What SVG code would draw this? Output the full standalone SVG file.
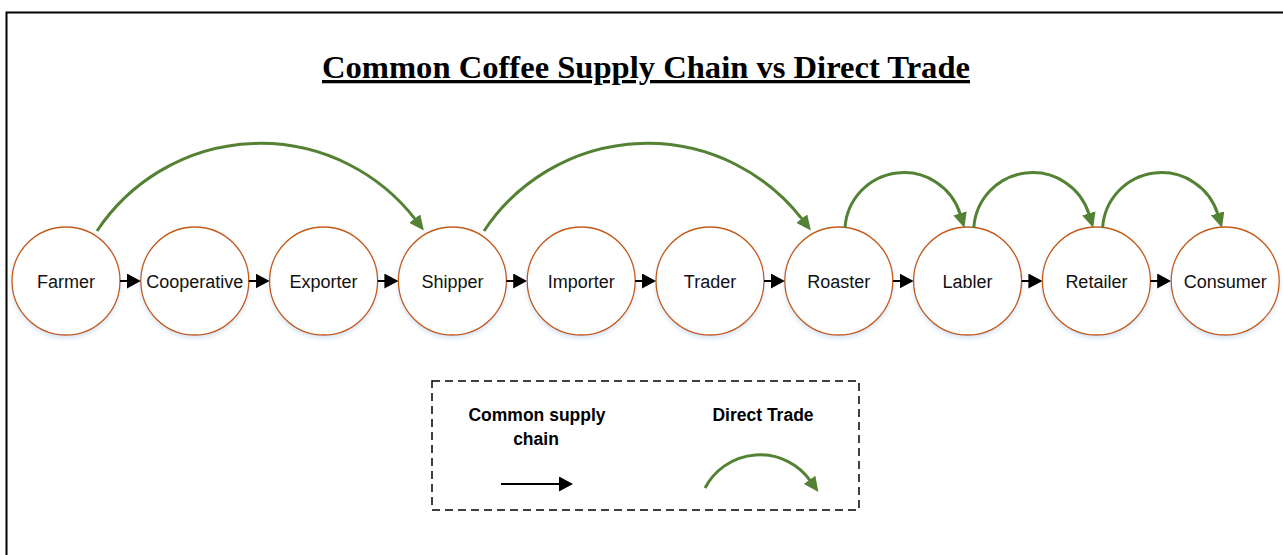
<svg xmlns="http://www.w3.org/2000/svg" width="1283" height="555" viewBox="0 0 1283 555">
  <style>
    .frame { fill: none; stroke: #000; stroke-width: 2; }
    .title { font-family: "Liberation Serif", "Times New Roman", serif; font-weight: bold; font-size: 32.6px; fill: #000; text-decoration: underline; }
    .node circle { fill: #fff; stroke: #C55A11; stroke-width: 1.3; filter: url(#glow); }
    .node text { font-family: "Liberation Sans", Arial, sans-serif; font-size: 18px; fill: #111; text-anchor: middle; }
    .flow { stroke: #000; stroke-width: 2; fill: none; marker-end: url(#blackHead); }
    .direct { stroke: #548235; stroke-width: 3; fill: none; marker-end: url(#greenHead); }
    .legend-box { fill: none; stroke: #000; stroke-width: 1.5; stroke-dasharray: 8 5; }
    .legend-text { font-family: "Liberation Sans", Arial, sans-serif; font-weight: bold; font-size: 17.5px; fill: #000; text-anchor: middle; }
  </style>
  <defs>
    <filter id="glow" x="-20%" y="-20%" width="140%" height="150%">
      <feDropShadow dx="0" dy="2.5" stdDeviation="2" flood-color="#9DC3E6" flood-opacity="0.45"/>
    </filter>
    <marker id="blackHead" markerUnits="userSpaceOnUse" markerWidth="14" markerHeight="15" refX="2" refY="7.5" orient="auto">
      <path d="M0,0 L14,7.5 L0,15 Z" fill="#000"/>
    </marker>
    <marker id="greenHead" markerUnits="userSpaceOnUse" markerWidth="15" markerHeight="14" refX="1" refY="7" orient="auto">
      <path d="M0,0 L15,7 L0,14 Z" fill="#548235"/>
    </marker>
  </defs>

  <rect class="frame" x="6.5" y="12.5" width="1300" height="600"/>

  <text class="title" x="646" y="78" text-anchor="middle">Common Coffee Supply Chain vs Direct Trade</text>

  <!-- supply chain stages -->
  <g id="farmer" class="node"><circle cx="66" cy="281" r="54"/><text x="66" y="287.5">Farmer</text></g>
  <g id="cooperative" class="node"><circle cx="194.8" cy="281" r="54"/><text x="194.8" y="287.5">Cooperative</text></g>
  <g id="exporter" class="node"><circle cx="323.6" cy="281" r="54"/><text x="323.6" y="287.5">Exporter</text></g>
  <g id="shipper" class="node"><circle cx="452.4" cy="281" r="54"/><text x="452.4" y="287.5">Shipper</text></g>
  <g id="importer" class="node"><circle cx="581.2" cy="281" r="54"/><text x="581.2" y="287.5">Importer</text></g>
  <g id="trader" class="node"><circle cx="710" cy="281" r="54"/><text x="710" y="287.5">Trader</text></g>
  <g id="roaster" class="node"><circle cx="838.8" cy="281" r="54"/><text x="838.8" y="287.5">Roaster</text></g>
  <g id="labler" class="node"><circle cx="967.6" cy="281" r="54"/><text x="967.6" y="287.5">Labler</text></g>
  <g id="retailer" class="node"><circle cx="1096.4" cy="281" r="54"/><text x="1096.4" y="287.5">Retailer</text></g>
  <g id="consumer" class="node"><circle cx="1225.2" cy="281" r="54"/><text x="1225.2" y="287.5">Consumer</text></g>

  <g id="connectors">
    <!-- common chain: edge to edge -->
    <line class="flow" x1="120" y1="281" x2="128.8" y2="281"/>
    <line class="flow" x1="248.8" y1="281" x2="257.6" y2="281"/>
    <line class="flow" x1="377.6" y1="281" x2="386.4" y2="281"/>
    <line class="flow" x1="506.4" y1="281" x2="515.2" y2="281"/>
    <line class="flow" x1="635.2" y1="281" x2="644" y2="281"/>
    <line class="flow" x1="764" y1="281" x2="772.8" y2="281"/>
    <line class="flow" x1="892.8" y1="281" x2="901.6" y2="281"/>
    <line class="flow" x1="1021.6" y1="281" x2="1030.4" y2="281"/>
    <line class="flow" x1="1150.4" y1="281" x2="1159.2" y2="281"/>

    <!-- direct trade shortcuts -->
    <path class="direct" d="M97,231 A196,196 0 0 1 415.3,219.4"/>
    <path class="direct" d="M484,231 A196,196 0 0 1 802.3,219.4"/>
    <path class="direct" d="M845,228 A59,59 0 0 1 960.3,214.3"/>
    <path class="direct" d="M973.8,228 A59,59 0 0 1 1089.1,214.3"/>
    <path class="direct" d="M1102.6,228 A59,59 0 0 1 1217.9,214.3"/>
  </g>

  <g id="legend">
    <rect class="legend-box" x="432" y="381" width="427" height="129"/>
    <text class="legend-text" x="537" y="421">Common supply</text>
    <text class="legend-text" x="536" y="445">chain</text>
    <text class="legend-text" x="763" y="421">Direct Trade</text>
    <line class="flow" x1="501" y1="484" x2="561" y2="484"/>
    <path class="direct" d="M705,488 A62,62 0 0 1 810.2,480.6"/>
  </g>
</svg>
